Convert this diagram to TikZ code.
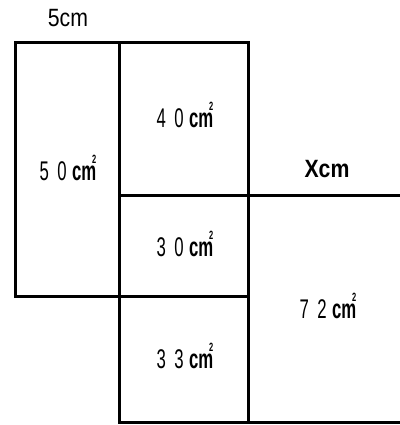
\documentclass[tikz,border=0pt]{standalone}
\usepackage{fontspec}
\setmainfont{Liberation Sans}
\usepackage{graphicx}
\newcommand{\areatext}[2]{\scalebox{0.62}[1]{#1\hspace{0.5em}#2\hspace{0.32em}\textbf{cm}\llap{\raisebox{0.6em}{\fontsize{12}{12}\selectfont\bfseries 2}}}}
\begin{document}
\begin{tikzpicture}[x=1pt,y=-1pt,
  edge/.style={line width=3pt,line cap=rect},
  lab/.style={inner sep=0pt,font=\fontsize{27}{27}\selectfont},
  dim/.style={inner sep=0pt,font=\fontsize{25}{25}\selectfont}]
\useasboundingbox (0,0) rectangle (399,425);
% grid lines
\coordinate (a1) at (15,43);
\coordinate (a2) at (119,43);
\coordinate (a3) at (248,43);
\coordinate (b1) at (119,195);
\coordinate (b2) at (248,195);
\coordinate (b3) at (398,195);
\coordinate (c1) at (15,296);
\coordinate (c2) at (119,296);
\coordinate (c3) at (248,296);
\coordinate (d1) at (119,422);
\coordinate (d2) at (248,422);
\coordinate (d3) at (398,422);
\draw[edge] (c1) -- (a1) -- (a3) -- (d2);
\draw[edge] (a2) -- (d1);
\draw[edge] (b1) -- (b3);
\draw[edge] (c1) -- (c3);
\draw[edge] (d1) -- (d3);
% labels
\node[dim] (t5) at (68,18) {\scalebox{0.85}[1]{5cm}};
\node[dim] (tx) at (327,169) {\scalebox{0.85}[1]{\textbf{Xcm}}};
\node[lab] (t50) at (68,168) {\areatext{5}{0}};
\node[lab] (t40) at (185,115) {\areatext{4}{0}};
\node[lab] (t30) at (185,244) {\areatext{3}{0}};
\node[lab] (t33) at (185,356) {\areatext{3}{3}};
\node[lab] (t72) at (328,306) {\areatext{7}{2}};
\end{tikzpicture}
\end{document}
